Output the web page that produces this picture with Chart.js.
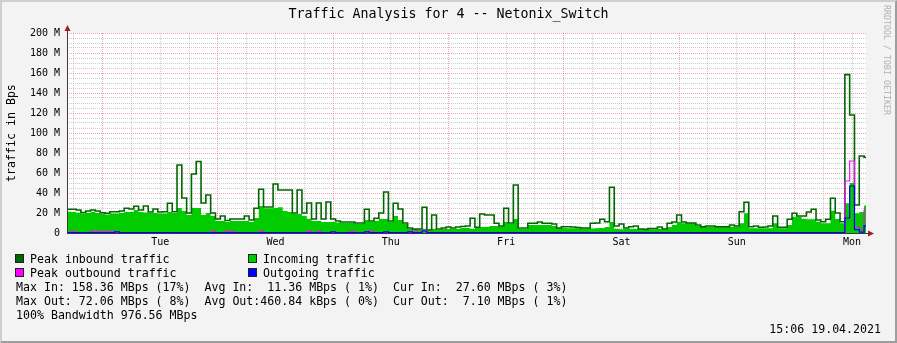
<!DOCTYPE html>
<html>
<head>
<meta charset="utf-8">
<title>Traffic Analysis for 4 -- Netonix_Switch</title>
<script src="https://cdn.jsdelivr.net/npm/chart.js@4.4.1/dist/chart.umd.min.js"></script>
<style>
  html, body { margin: 0; padding: 0; background: #f3f3f3; }
  #graph { position: relative; width: 897px; height: 343px; background: #f3f3f3; overflow: hidden;
           font-family: 'DejaVu Sans Mono', monospace; color: #000; }
  #graph canvas { position: absolute; left: 0; top: 0; }
  .frame { position: absolute; left: 0; top: 0; width: 897px; height: 343px; box-sizing: border-box;
           border: 2px solid; border-color: #cfcfcf #9e9e9e #9e9e9e #cfcfcf; pointer-events: none; }
  .txt { position: absolute; white-space: pre; font-size: 11.6px; line-height: 14px; }
  .sq { position: absolute; width: 7px; height: 7px; border: 1px solid #222; }
  #title { position: absolute; left: 0; top: 5px; width: 897px; text-align: center;
           font-size: 13.3px; line-height: 18px; white-space: pre; }
  #ytitle { position: absolute; left: -89px; top: 125px; width: 200px; height: 16px; line-height: 16px;
            text-align: center; font-size: 11.6px; transform: rotate(-90deg); }
  #brand { position: absolute; left: 822px; top: 55px; width: 130px; height: 10px; line-height: 10px;
           text-align: center; font-size: 8.3px; color: #b0b0b0; transform: rotate(90deg); white-space: pre; }
</style>
</head>
<body>
<div id="graph">
  <canvas id="trafficChart" width="897" height="343"></canvas>
  <div id="title">Traffic Analysis for 4 -- Netonix_Switch</div>
  <div id="ytitle">traffic in Bps</div>
  <div id="brand">RRDTOOL / TOBI OETIKER</div>

  <div class="sq" style="left:15px;top:254px;background:#006600"></div>
  <div class="txt" style="left:30px;top:252px">Peak inbound traffic</div>
  <div class="sq" style="left:248px;top:254px;background:#00cc00"></div>
  <div class="txt" style="left:263px;top:252px">Incoming traffic</div>

  <div class="sq" style="left:15px;top:268px;background:#ff00ff"></div>
  <div class="txt" style="left:30px;top:266px">Peak outbound traffic</div>
  <div class="sq" style="left:248px;top:268px;background:#0000ff"></div>
  <div class="txt" style="left:263px;top:266px">Outgoing traffic</div>

  <div class="txt" style="left:16px;top:280px">Max In: 158.36 MBps (17%)  Avg In:  11.36 MBps ( 1%)  Cur In:  27.60 MBps ( 3%)</div>
  <div class="txt" style="left:16px;top:294px">Max Out: 72.06 MBps ( 8%)  Avg Out:460.84 kBps ( 0%)  Cur Out:  7.10 MBps ( 1%)</div>
  <div class="txt" style="left:16px;top:308px">100% Bandwidth 976.56 MBps</div>
  <div class="txt" style="right:16px;top:322px">15:06 19.04.2021</div>
  <div class="frame"></div>
</div>

<script>
/* ---- DATA (hourly samples, hour 0 = Monday 00:00 of the previous week, values in MBps) ---- */
const firstHour = 16;
const axisStart = 16.6;
const axisEnd = 182.9;
const dayNames = ['Mon', 'Tue', 'Wed', 'Thu', 'Fri', 'Sat', 'Sun'];

const incoming = [
  21.3, 21.3, 21, 20.3, 19.5, 20, 21, 20, 19, 18.5, 19.5, 19.5,
  20, 21, 21, 23, 21, 20.5, 20, 20, 19.5, 19.5, 21, 20,
  25, 22, 18, 25, 25, 18, 20, 17, 12, 12, 11, 12,
  12, 12, 12, 11, 15, 27, 24.7, 24.7, 25, 25.7, 22, 21,
  19, 19, 17, 14, 12, 12, 11, 11, 11, 10.5, 10, 10,
  10, 9, 9, 13, 11, 12, 14, 14, 11, 17, 13, 9,
  4, 3.7, 3.5, 4, 2.5, 4, 3, 4, 4, 4, 4, 5,
  5, 4, 5, 6, 6, 7, 7, 6.5, 11, 9, 14, 4,
  4, 8, 8, 8, 8, 8, 7, 4.7, 5, 4.7, 4.7, 4.7,
  4.5, 4.5, 4.5, 4.7, 5, 6, 11, 4, 3.7, 4, 4, 4,
  3.5, 3.5, 3.7, 3.7, 4, 3.7, 6, 8, 11, 9.7, 9.7, 9.7,
  7, 6, 6.3, 6.3, 6, 6, 6, 6.3, 6.3, 9.7, 19.7, 4.7,
  4.7, 4.7, 4.7, 4.7, 9.7, 4.7, 4.7, 8, 16.3, 16.3, 14, 13.7,
  13.7, 11.3, 9.7, 9.7, 22.3, 14, 9.7, 29.7, 50, 19.7, 21, 27.6
];

const peakIn = [
  23.7, 23.7, 23.7, 23, 20.5, 22, 23, 22, 20.3, 19.7, 21.3, 21.3,
  22, 24.7, 24, 26.7, 23, 27, 21, 24, 21, 21.3, 29.7, 21.3,
  68, 35, 20, 59, 71.5, 30, 38, 20, 14, 17, 12.5, 14,
  14, 14, 17, 13, 24.7, 43.7, 26, 26, 49, 43, 43, 43,
  20, 43, 20, 30, 14, 30, 14, 31, 14, 12, 11, 11,
  11, 10, 10, 23.7, 12, 14.7, 20, 41, 12, 29.7, 24, 10,
  5, 4, 4, 25.7, 3, 18, 4, 5, 6, 5, 6, 6.5,
  7, 14.7, 5.7, 19, 18, 18, 9.7, 7, 24.7, 10, 48, 5,
  5, 9.7, 9.7, 11, 9.7, 9.7, 9, 5, 6.3, 6.3, 6, 5.5,
  5, 5, 9.7, 10, 13.7, 11.3, 45.7, 7, 9, 5, 6.3, 7,
  4, 3.7, 4.5, 4.5, 6, 4, 9.7, 11, 18, 11, 10, 10,
  8, 6.3, 7, 7, 6.3, 6.3, 6.3, 8, 7, 21.3, 30.7, 6.3,
  7, 5.7, 6, 7, 17, 5.7, 5.7, 13.7, 19.7, 17, 17, 21,
  23.7, 13, 11.3, 13.7, 34.7, 20, 11.3, 158.4, 118, 28, 77, 75.7
];

const outgoing = [
  0.3, 0.3, 0.3, 0.3, 0.3, 0.3, 0.3, 0.3, 0.3, 0.3, 0.3, 1.2,
  0.3, 0.3, 0.3, 0.3, 0.3, 0.3, 0.3, 0.3, 0.3, 0.3, 0.3, 0.3,
  0.3, 0.3, 0.3, 0.3, 0.3, 0.3, 0.3, 0.3, 0.3, 0.3, 0.3, 0.3,
  0.3, 0.3, 0.3, 0.3, 0.3, 0.3, 0.3, 0.3, 0.3, 0.3, 0.3, 0.3,
  0.3, 0.3, 0.3, 0.3, 0.3, 0.3, 0.3, 0.3, 1.2, 0.3, 0.3, 0.3,
  0.3, 0.3, 0.3, 1.2, 0.3, 0.3, 0.3, 1.2, 0.3, 0.3, 0.3, 0.3,
  1.2, 0.3, 0.3, 2, 0.3, 0.3, 0.3, 0.3, 0.3, 0.3, 0.3, 0.3,
  0.3, 0.3, 0.3, 0.3, 0.3, 0.3, 0.3, 0.3, 0.3, 0.3, 0.3, 0.3,
  0.3, 0.3, 0.3, 0.3, 0.3, 0.3, 0.3, 0.3, 0.3, 0.3, 0.3, 0.3,
  0.3, 0.3, 0.3, 0.3, 0.3, 0.3, 0.3, 0.3, 0.3, 0.3, 0.3, 0.3,
  0.3, 0.3, 0.3, 0.3, 0.3, 0.3, 0.3, 0.3, 0.3, 0.3, 0.3, 0.3,
  0.3, 0.3, 0.3, 0.3, 0.3, 0.3, 0.3, 0.3, 0.3, 0.3, 0.3, 0.3,
  0.3, 0.3, 0.3, 0.3, 0.3, 0.3, 0.3, 0.3, 0.3, 0.3, 0.3, 0.3,
  0.3, 0.3, 0.3, 0.3, 0.3, 0.3, 0.3, 15, 47, 3.3, 0.8, 7.1
];

const peakOut = [
  0.5, 0.5, 2, 0.5, 0.5, 0.5, 2, 2, 2, 2, 2, 0.5,
  0.5, 0.5, 0.5, 0.5, 0.5, 0.5, 0.5, 0.5, 0.5, 0.5, 0.5, 0.5,
  0.5, 0.5, 0.5, 0.5, 0.5, 0.5, 0.5, 2, 0.5, 0.5, 2, 2,
  0.5, 0.5, 0.5, 0.5, 0.5, 2, 0.5, 0.5, 0.5, 0.5, 0.5, 0.5,
  0.5, 0.5, 0.5, 2, 0.5, 2, 0.5, 0.5, 0.5, 0.5, 0.5, 0.5,
  2, 0.5, 0.5, 0.5, 2, 0.5, 0.5, 0.5, 0.5, 0.5, 0.5, 0.5,
  0.5, 2, 0.5, 3, 0.5, 0.5, 0.5, 0.5, 0.5, 0.5, 0.5, 0.5,
  0.5, 0.5, 0.5, 0.5, 0.5, 0.5, 0.5, 0.5, 0.5, 0.5, 0.5, 0.5,
  0.5, 0.5, 0.5, 0.5, 0.5, 0.5, 0.5, 0.5, 0.5, 0.5, 0.5, 0.5,
  0.5, 0.5, 0.5, 0.5, 0.5, 0.5, 0.5, 0.5, 0.5, 0.5, 0.5, 0.5,
  0.5, 0.5, 0.5, 0.5, 0.5, 0.5, 0.5, 0.5, 0.5, 0.5, 0.5, 0.5,
  0.5, 0.5, 0.5, 0.5, 0.5, 0.5, 0.5, 0.5, 0.5, 0.5, 0.5, 0.5,
  0.5, 0.5, 0.5, 0.5, 0.5, 0.5, 0.5, 0.5, 0.5, 0.5, 0.5, 0.5,
  0.5, 0.5, 0.5, 0.5, 0.5, 0.5, 0.5, 52, 72, 6, 3, 23
];

const hours = incoming.map((_, i) => firstHour + i);
const gridHours = [];
for (let h = 18; h <= 180; h += 6) gridHours.push(h);

const toPoints = arr => arr.map((v, i) => ({ x: hours[i], y: v }));

/* ---- colours ---- */
const minorGrid = 'rgba(143,143,143,0.45)';
const majorGrid = 'rgba(222,80,80,0.5)';

/* ---- plot canvas, axes and arrows like rrdtool ---- */
const rrdFrame = {
  id: 'rrdFrame',
  beforeDraw(chart) {
    const a = chart.chartArea, ctx = chart.ctx;
    ctx.save();
    ctx.fillStyle = '#ffffff';
    ctx.fillRect(a.left, a.top, a.right - a.left, a.bottom - a.top);
    ctx.restore();
  },
  afterDraw(chart) {
    const a = chart.chartArea, ctx = chart.ctx;
    const x0 = Math.round(a.left) + 0.5, y0 = Math.round(a.bottom) + 0.5;
    ctx.save();
    ctx.strokeStyle = '#3a3a3a';
    ctx.lineWidth = 1;
    ctx.beginPath();
    ctx.moveTo(x0, y0); ctx.lineTo(x0, a.top - 4);
    ctx.moveTo(a.left, y0); ctx.lineTo(a.right + 3, y0);
    ctx.stroke();
    ctx.fillStyle = '#a01e1e';
    ctx.beginPath();
    ctx.moveTo(x0, a.top - 8); ctx.lineTo(x0 - 3, a.top - 2); ctx.lineTo(x0 + 3, a.top - 2);
    ctx.closePath(); ctx.fill();
    ctx.beginPath();
    ctx.moveTo(a.right + 8, y0); ctx.lineTo(a.right + 2, y0 - 3); ctx.lineTo(a.right + 2, y0 + 3);
    ctx.closePath(); ctx.fill();
    ctx.restore();
  }
};

Chart.defaults.font.family = "'DejaVu Sans Mono', monospace";
Chart.defaults.font.size = 10;
Chart.defaults.color = '#000';

const lineBase = { stepped: 'middle', pointRadius: 0, pointHoverRadius: 0, fill: false };

new Chart(document.getElementById('trafficChart'), {
  type: 'line',
  data: {
    datasets: [
      Object.assign({ label: 'Outgoing traffic', data: toPoints(outgoing), borderColor: '#0000ff', borderWidth: 1.2 }, lineBase),
      Object.assign({ label: 'Peak outbound traffic', data: toPoints(peakOut), borderColor: '#ff00ff', borderWidth: 1.2 }, lineBase),
      Object.assign({ label: 'Peak inbound traffic', data: toPoints(peakIn), borderColor: '#006600', borderWidth: 1.6 }, lineBase),
      Object.assign({}, lineBase, {
        label: 'Incoming traffic', data: toPoints(incoming),
        borderColor: 'rgba(0,0,0,0)', borderWidth: 1,
        backgroundColor: '#00cc00', fill: 'origin'
      })
    ]
  },
  options: {
    responsive: false,
    animation: false,
    devicePixelRatio: 1,
    events: [],
    layout: { padding: { left: 0, top: 33, right: 31, bottom: 90 } },
    plugins: { legend: { display: false }, tooltip: { enabled: false } },
    scales: {
      x: {
        type: 'linear',
        min: axisStart,
        max: axisEnd,
        afterBuildTicks: s => { s.ticks = gridHours.map(v => ({ value: v })); },
        afterFit: s => { s.height = 20; },
        ticks: {
          autoSkip: false, maxRotation: 0, padding: 3,
          callback: v => (v % 24 === 12 ? dayNames[Math.floor(v / 24) % 7] : '')
        },
        grid: {
          drawTicks: false,
          color: c => (c.tick && c.tick.value % 24 === 0 ? majorGrid : minorGrid)
        },
        border: { display: false, dash: [1, 1] }
      },
      y: {
        min: 0,
        max: 200,
        afterFit: s => { s.width = 67; },
        ticks: {
          stepSize: 5, autoSkip: false, padding: 7,
          callback: v => (v % 20 === 0 ? (v === 0 ? '0' : v + ' M') : '')
        },
        grid: {
          drawTicks: false,
          color: c => (c.tick && c.tick.value % 20 === 0 ? majorGrid : minorGrid)
        },
        border: { display: false, dash: [1, 1] }
      }
    }
  },
  plugins: [rrdFrame]
});
</script>
</body>
</html>
